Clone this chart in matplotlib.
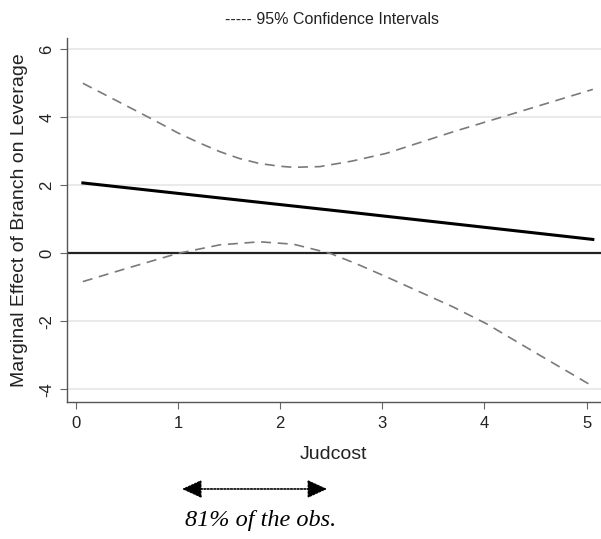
import matplotlib
matplotlib.use('Agg')
import matplotlib.pyplot as plt

plt.rcParams['font.family'] = ['Liberation Sans', 'DejaVu Sans']
plt.rcParams['axes.unicode_minus'] = False

# marginal effect
x_me = [0.07, 2.59, 5.06]
me = [2.06, 1.23, 0.40]

# upper and lower 95% bounds
x_up = [0.07, 0.34, 0.63, 0.82, 1.00, 1.20, 1.41, 1.60, 1.80, 2.00, 2.13,
        2.39, 2.70, 3.04, 3.70, 4.35, 5.06]
ci_up = [4.99, 4.57, 4.12, 3.82, 3.53, 3.25, 2.98, 2.78, 2.63, 2.55, 2.52,
         2.54, 2.70, 2.93, 3.57, 4.16, 4.81]
x_lo = [0.07, 0.50, 1.00, 1.41, 1.80, 2.13, 2.49, 2.75, 3.04, 3.69, 4.02,
        4.51, 5.05]
ci_lo = [-0.84, -0.45, -0.01, 0.24, 0.33, 0.26, -0.01, -0.32, -0.70, -1.58,
         -2.08, -2.95, -3.90]

x_ticks = [0, 1, 2, 3, 4, 5]
y_ticks = [-4, -2, 0, 2, 4, 6]
obs_range = [1.04, 2.46]   # judcost span holding 81% of observations

fig = plt.figure(figsize=(6.01, 5.39), dpi=100, facecolor='white')
ax = fig.add_axes([0.111, 0.2547, 0.889, 0.6748])

for yv in y_ticks:
    ax.axhline(yv, color='#e6e6e6', lw=1.2, zorder=0)
ax.axhline(0, color='#222222', lw=1.6, zorder=1)

ax.plot(x_up, ci_up, color='#7a7a7a', lw=1.2, dashes=(6, 4), zorder=2)
ax.plot(x_lo, ci_lo, color='#7a7a7a', lw=1.2, dashes=(6, 4), zorder=2)
ax.plot(x_me, me, color='black', lw=2.2, zorder=3)

ax.set_xlim(-0.088, 5.14)
ax.set_ylim(-4.37, 6.32)
ax.set_xticks(x_ticks)
ax.set_yticks(y_ticks)
ax.tick_params(axis='both', direction='out', length=5, width=0.8,
               color='#666666', labelsize=12, labelcolor='#222222')
ax.tick_params(axis='x', pad=5)
ax.tick_params(axis='y', pad=4)
for lab in ax.get_yticklabels():
    lab.set_rotation(90)
    lab.set_va('center')

for s in ['top', 'right']:
    ax.spines[s].set_visible(False)
for s in ['left', 'bottom']:
    ax.spines[s].set_color('#555555')
    ax.spines[s].set_linewidth(1.0)

ax.set_xlabel('Judcost', fontsize=14, color='#222222', labelpad=11)
ax.set_ylabel('Marginal Effect of Branch on Leverage', fontsize=14,
              color='#222222', labelpad=8)

fig.text(0.553, 0.963, '----- 95% Confidence Intervals', fontsize=11.5,
         color='#222222', ha='center', va='center')

ax.annotate('', xy=(obs_range[1], 0.0928), xytext=(obs_range[0], 0.0928),
            xycoords=('data', 'figure fraction'),
            textcoords=('data', 'figure fraction'),
            arrowprops=dict(arrowstyle='<|-|>,head_length=1.2,head_width=0.55',
                            linestyle=(0, (1, 1)), lw=1.2, color='black',
                            shrinkA=0, shrinkB=0))
fig.text(0.434, 0.035, '81% of the obs.', fontsize=17.5, style='italic',
         family='Liberation Serif', ha='center', va='center', color='black')

fig.savefig('out.png', dpi=100, facecolor='white')
